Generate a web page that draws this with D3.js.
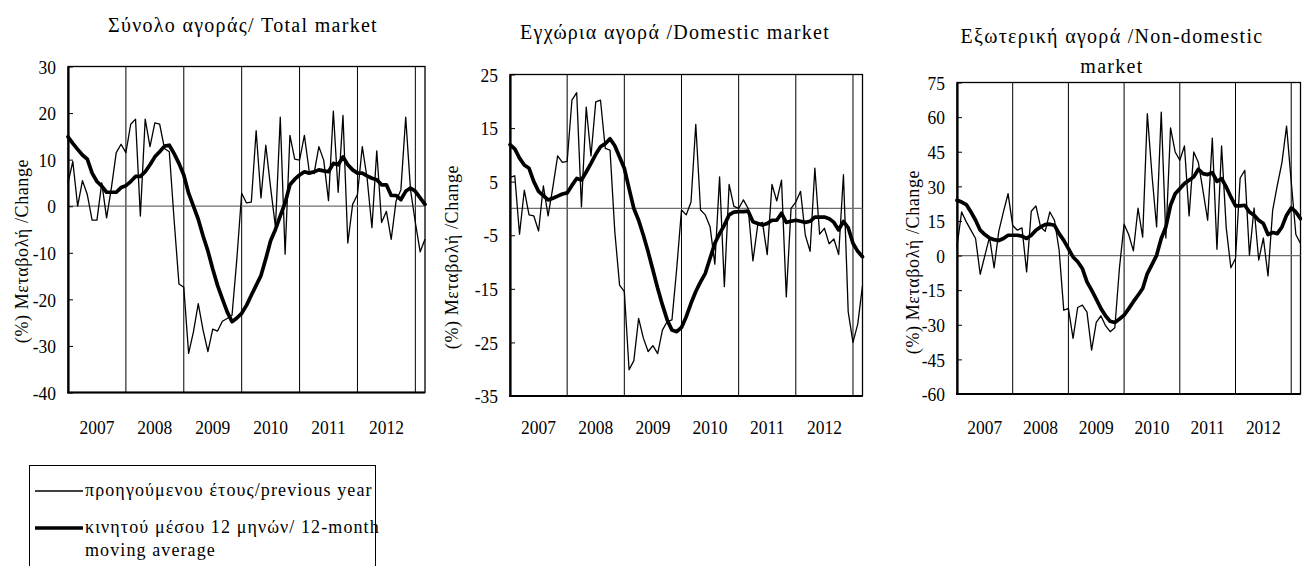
<!DOCTYPE html>
<html>
<head>
<meta charset="utf-8">
<script src="https://cdn.jsdelivr.net/npm/d3@7"></script>
<style>
  body { margin: 0; background: #fff; }
  svg text { font-family: "Liberation Serif", "Times New Roman", serif; fill: #000; }
</style>
</head>
<body>
<svg id="canvas" width="1302" height="566"></svg>
<script>
// monthly categories Jan 2007 - Mar 2013
const months = d3.timeMonth.range(new Date(2007, 0, 1), new Date(2013, 3, 1))
const years = [2007, 2008, 2009, 2010, 2011, 2012]

// Total market
const totalYoY = [5, 9.6, 0, 5.5, 2.5, -3, -3, 5, -2.5, 4, 11.5, 13.3, 11.5, 17.6, 18.7, -2.1, 18.7, 12.8, 17.9, 17.6,
    12.4, 11.7, -3, -16.7, -17.4, -31.6, -27, -20.9, -26.6, -31.2, -26.4, -26.8, -24.7, -24.1, -23.4, -11.3, 2.8, 0.7, 0.9, 16.2,
    1.8, 13.1, 4, -4.5, 19.1, -10.3, 15.2, 10.1, 9.9, 15.2, 7.5, 7, 12.8, 9.9, 1.2, 20.4, 3, 19.5, -7.9, 0.4,
    2.5, 12.8, 6, -4.6, 11.9, -3.5, -1.1, -7.1, 1.1, 3.5, 19.1, 3.5, -3.5, -9.8, -7.1]
const totalMA = [14.9, 13.5, 12.2, 11, 10.1, 7.1, 5.3, 4.3, 3, 3, 3, 4, 4.4, 5.3, 6.4, 6.4, 7.4, 8.9, 10.6, 11.7,
    12.9, 13.1, 11.3, 9.2, 6.7, 2.8, 0, -2.8, -6.4, -9.6, -13.5, -17, -19.9, -22.7, -24.8, -24, -23, -21.3, -19.1, -17,
    -14.9, -11.3, -7.4, -5, -2.1, 0.7, 4.6, 5.8, 6.7, 7.4, 7.1, 7.4, 7.8, 7.6, 7.4, 9.2, 8.9, 10.6, 8.9, 7.8,
    7.1, 7.1, 6.5, 6, 5.7, 4.6, 4.6, 2.3, 2.3, 1.4, 3.2, 3.9, 3.2, 1.8, 0.4]

// Domestic market
const domesticYoY = [5.8, 6.1, -4.8, 3.4, -1.2, -1.4, -4.2, 4.2, -1.4, 4, 9.8, 8.6, 8.8, 20.2, 21.6, 0.3, 18.9, 9.8, 19.9, 20.2,
    11.2, 10.9, -4.3, -14.3, -15.5, -30.1, -28.4, -20.5, -24.2, -26.7, -25.6, -27.1, -22.7, -21.1, -20.8, -11.2, -0.3, -1.2, 1.2, 15.7,
    -0.3, -1.2, -3.4, -10.4, 5.9, -14.6, 4.5, 0.4, 0, 1.6, 0, -9.8, -3.1, -2.6, -8.6, 4.5, 1.4, 5.3, -16.5, 0,
    1.2, 3.2, -5, -8, 7.5, -4.8, -3.7, -6.6, -5.7, -8.6, 6.3, -19.3, -25, -21.6, -14.4]
const domesticMA = [11.9, 11.1, 9.4, 8.1, 7.5, 5, 3.2, 2.4, 1.6, 1.9, 2.3, 2.7, 2.9, 4.3, 5.6, 5.3, 6.8, 8.4, 10.1, 11.5,
    12.1, 13, 11.7, 9.6, 7.5, 3.7, 0, -2.2, -5, -8.1, -11.5, -14.9, -18, -20.8, -22.7, -23, -22.2, -20.2, -17.7, -15.5,
    -13.7, -12.1, -9.3, -6.5, -4.7, -3.1, -1.2, -0.7, -0.6, -0.6, -0.5, -2.5, -2.8, -3.1, -2.8, -2.2, -2.2, -0.9, -2.6, -2.4,
    -2.2, -2.4, -2.6, -2.4, -1.6, -1.6, -1.6, -1.9, -2.6, -4, -2.4, -3.6, -6.5, -8, -9]

// Non-domestic market
const foreignYoY = [4, 18.9, 14.6, 11, 7.4, -8.1, 0, 8, -5.3, 10.5, 18.9, 26.8, 13, 11, 12, -7.1, 19.2, 21.5, 12.4, 10.5,
    18.9, 15.3, 2.3, -23.7, -22.9, -35.9, -22.5, -21.5, -24.5, -41, -29, -26.1, -30.4, -33, -31.3, -5.3, 13.6, 9, 2, 20.5,
    8, 61.5, 35, 12.4, 62.2, 7.6, 55.3, 44.9, 41.3, 47.5, 17.2, 44.9, 40.3, 28, 15.3, 50.9, 2.7, 47.5, 12, -5.3,
    -1.3, 33.6, 36.9, 0.1, 20.6, -2, 7.6, -8.8, 19.6, 30.4, 40.3, 56.1, 32, 9.1, 5.2]
const foreignMA = [24, 23.2, 22.1, 18.9, 15.3, 11, 9.1, 7.6, 6.9, 6.5, 7.4, 8.8, 8.8, 8.8, 8.4, 7.4, 8.8, 11, 12.4, 13.4,
    13.6, 13.1, 9.5, 6.6, 3, -0.6, -2.7, -5.6, -11.4, -15, -18.9, -22.9, -26.1, -28.5, -29, -27.5, -25.8, -23, -20, -17.2,
    -14.3, -7.8, -3.9, 0.1, 7.4, 12.4, 21.8, 26.8, 29, 31.2, 32.6, 34.1, 37.4, 35.5, 35.1, 35.9, 32.2, 33.3, 29.7, 25.4,
    21.5, 21.5, 21.8, 18.9, 17.5, 15.3, 13.9, 9.1, 10, 9.5, 12.4, 17.5, 20.6, 18.9, 16]

const totalTicks = [30, 20, 10, 0, -10, -20, -30, -40]
const domesticTicks = [25, 15, 5, -5, -15, -25, -35]
const foreignTicks = [75, 60, 45, 30, 15, 0, -15, -30, -45, -60]

const yLabel = "(%) Μεταβολή /Change"
const legendLabels = ["προηγούμενου έτους/previous year", "κινητού μέσου 12 μηνών/ 12-month", "moving average"]

const panels = [
    { title: ["Σύνολο αγοράς/ Total market"], yoy: totalYoY, ma: totalMA, ticks: totalTicks,
      left: 68, right: 425, top: 66.5, bottom: 392.5, titleX: 243, titleY: 25, labelX: 22, labelY: 251 },
    { title: ["Εγχώρια αγορά /Domestic market"], yoy: domesticYoY, ma: domesticMA, ticks: domesticTicks,
      left: 510, right: 862.5, top: 74.5, bottom: 396, titleX: 675, titleY: 32, labelX: 452, labelY: 257 },
    { title: ["Εξωτερική αγορά /Non-domestic", "market"], yoy: foreignYoY, ma: foreignMA, ticks: foreignTicks,
      left: 957, right: 1300.5, top: 82.5, bottom: 394, titleX: 1112, titleY: 36, labelX: 913, labelY: 262 }
]

let svg = d3.select("#canvas")

// the source digits are a bit taller than wide, stretch text vertically a little
const tall = (sel, x, y) => sel.attr("transform", "translate(" + x + "," + y + ") scale(1,1.12)")

const drawPanel = (p) => {
    let g = svg.append("g")

    let x = d3.scalePoint()
        .domain(months)
        .range([p.left, p.right])

    let y = d3.scaleLinear()
        .domain([d3.min(p.ticks), d3.max(p.ticks)])
        .range([p.bottom, p.top])

    // plot border
    g.append("rect")
        .attr("x", p.left)
        .attr("y", p.top)
        .attr("width", p.right - p.left)
        .attr("height", p.bottom - p.top)
        .attr("fill", "none")
        .attr("stroke", "#000")
        .attr("stroke-width", 1.3)

    // year separators
    g.selectAll(".grid")
        .data(months.filter((m, i) => i > 0 && m.getMonth() === 0))
        .enter()
        .append("line")
        .attr("x1", d => x(d))
        .attr("x2", d => x(d))
        .attr("y1", p.top)
        .attr("y2", p.bottom)
        .attr("stroke", "#000")
        .attr("stroke-width", 1)

    // zero line
    g.append("line")
        .attr("x1", p.left)
        .attr("x2", p.right)
        .attr("y1", y(0))
        .attr("y2", y(0))
        .attr("stroke", "#6e6e6e")
        .attr("stroke-width", 1.2)

    // y axis
    let yAxis = d3.axisLeft(y)
        .tickValues(p.ticks)
        .tickSizeInner(-5)
        .tickSizeOuter(0)
        .tickPadding(12)
        .tickFormat(d => String(d))

    let ax = g.append("g")
        .attr("transform", "translate(" + p.left + ",0)")
        .call(yAxis)
    ax.select(".domain").attr("stroke", "#000").attr("stroke-width", 2.2)
    ax.selectAll(".tick line").attr("stroke", "#000").attr("stroke-width", 1)
    ax.selectAll(".tick text")
        .attr("x", null)
        .attr("dy", "0.34em")
        .each(function () { tall(d3.select(this), -12, 0) })
        .style("font-family", "Liberation Serif")
        .style("font-size", "17.5px")

    // bottom axis line
    g.append("line")
        .attr("x1", p.left - 1)
        .attr("x2", p.right)
        .attr("y1", p.bottom)
        .attr("y2", p.bottom)
        .attr("stroke", "#000")
        .attr("stroke-width", 2.2)

    // year labels
    g.selectAll(".year")
        .data(years)
        .enter()
        .append("text")
        .attr("dy", "0.34em")
        .attr("text-anchor", "middle")
        .style("font-size", "17.5px")
        .text(d => d)
        .each(function (d) {
            let a = months.find(m => m.getFullYear() === d && m.getMonth() === 0)
            let b = months.find(m => m.getFullYear() === d + 1 && m.getMonth() === 0)
            tall(d3.select(this), (x(a) + x(b)) / 2, 427)
        })

    let line = d3.line()
        .x((d, i) => x(months[i]))
        .y(d => y(d))

    g.append("path")
        .datum(p.yoy)
        .attr("d", line)
        .attr("fill", "none")
        .attr("stroke", "#000")
        .attr("stroke-width", 1.3)
        .attr("stroke-linejoin", "round")

    g.append("path")
        .datum(p.ma)
        .attr("d", line)
        .attr("fill", "none")
        .attr("stroke", "#000")
        .attr("stroke-width", 3.7)
        .attr("stroke-linejoin", "round")
        .attr("stroke-linecap", "round")

    // title
    g.selectAll(".title")
        .data(p.title)
        .enter()
        .append("text")
        .attr("x", p.titleX)
        .attr("y", (d, i) => p.titleY + i * 30)
        .attr("dy", "0.35em")
        .attr("text-anchor", "middle")
        .style("font-size", "20px")
        .style("letter-spacing", "1.3px")
        .text(d => d)

    // y axis title
    g.append("text")
        .attr("transform", "translate(" + p.labelX + "," + p.labelY + ") rotate(-90)")
        .attr("dy", "0.35em")
        .attr("text-anchor", "middle")
        .style("font-size", "18px")
        .style("letter-spacing", "0.6px")
        .text(yLabel)
}

const legend = () => {
    let lg = svg.append("g")

    lg.append("rect")
        .attr("x", 29.5)
        .attr("y", 465.5)
        .attr("width", 346)
        .attr("height", 130)
        .attr("fill", "none")
        .attr("stroke", "#000")
        .attr("stroke-width", 1)

    lg.append("line")
        .attr("x1", 35).attr("x2", 83)
        .attr("y1", 491).attr("y2", 491)
        .attr("stroke", "#000")
        .attr("stroke-width", 1.3)

    lg.append("line")
        .attr("x1", 35).attr("x2", 83)
        .attr("y1", 528).attr("y2", 528)
        .attr("stroke", "#000")
        .attr("stroke-width", 3.7)

    lg.selectAll(".lt")
        .data(legendLabels)
        .enter()
        .append("text")
        .attr("x", 85)
        .attr("y", (d, i) => [490, 527, 550][i])
        .attr("dy", "0.35em")
        .style("font-size", "18px")
        .style("letter-spacing", "1.1px")
        .text(d => d)
}

panels.forEach(drawPanel)
legend()
</script>
</body>
</html>
